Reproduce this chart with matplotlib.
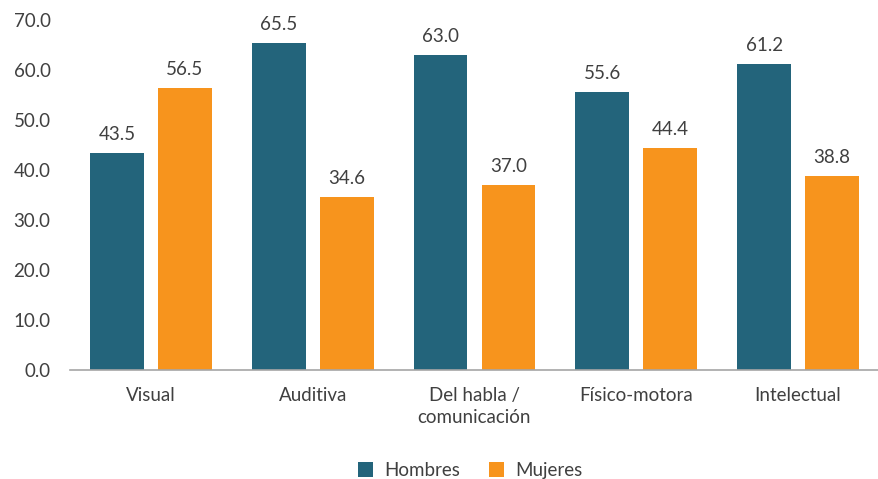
import numpy as np
import matplotlib
matplotlib.use('Agg')
import matplotlib.pyplot as plt

plt.rcParams['font.family'] = ['Lato', 'DejaVu Sans']

categorias = ['Visual', 'Auditiva', 'Del habla /\ncomunicación', 'Físico-motora', 'Intelectual']
hombres = [43.5, 65.5, 63.0, 55.6, 61.2]
mujeres = [56.5, 34.6, 37.0, 44.4, 38.8]

azul = '#23647b'
naranja = '#f7941d'
gris = '#404040'
fs = 13.5

fig = plt.figure(figsize=(8.79, 4.79), dpi=100)
ax = fig.add_axes([0.0796, 0.2276, 0.9204, 0.7306])

x = np.arange(len(categorias))
ancho = 0.333
off = 0.21
b1 = ax.bar(x - off, hombres, ancho, color=azul, label='Hombres')
b2 = ax.bar(x + off, mujeres, ancho, color=naranja, label='Mujeres')

for barras in (b1, b2):
    ax.bar_label(barras, labels=[f'{v:.1f}' for v in barras.datavalues],
                 padding=7, fontsize=fs, color=gris)

ax.set_xlim(-0.5, 4.5)
ax.set_ylim(0, 70)
ax.set_yticks(np.arange(0, 71, 10))
ax.set_yticklabels([f'{v:.1f}' for v in np.arange(0, 71, 10)])
ax.set_xticks(x)
ax.set_xticklabels(categorias, linespacing=1.4, va='top')
ax.tick_params(axis='both', length=0, labelsize=fs, colors=gris)
ax.tick_params(axis='x', pad=12)
ax.tick_params(axis='y', pad=14)

for s in ['top', 'right', 'left']:
    ax.spines[s].set_visible(False)
ax.spines['bottom'].set_color('#a6a6a6')
ax.spines['bottom'].set_linewidth(1.2)

fig.legend(handles=[b1, b2], loc='center', bbox_to_anchor=(0.535, 0.018),
           ncol=2, frameon=False, fontsize=fs, labelcolor=gris,
           handlelength=0.8, handleheight=0.8, columnspacing=1.5, handletextpad=0.6)

fig.savefig('out.png', dpi=100)
